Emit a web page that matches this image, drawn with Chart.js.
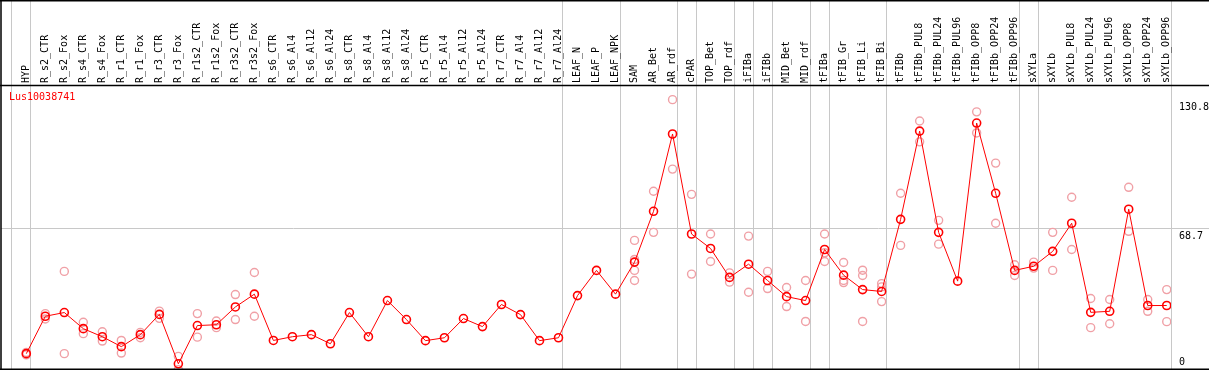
<!DOCTYPE html>
<html>
<head>
<meta charset="utf-8">
<script src="https://cdn.jsdelivr.net/npm/chart.js@4.4.1/dist/chart.umd.min.js"></script>
<style>
  html, body { margin: 0; padding: 0; background: #fff; }
  #wrap { width: 1209px; height: 370px; }
</style>
</head>
<body>
<div id="wrap"><canvas id="chart" width="1209" height="370"></canvas></div>
<script>
// samples, left to right
const categories = [
  "HYP",
  "R_s2_CTR", "R_s2_Fox", "R_s4_CTR", "R_s4_Fox", "R_r1_CTR", "R_r1_Fox", "R_r3_CTR", "R_r3_Fox",
  "R_r1s2_CTR", "R_r1s2_Fox", "R_r3s2_CTR", "R_r3s2_Fox",
  "R_s6_CTR", "R_s6_Al4", "R_s6_Al12", "R_s6_Al24", "R_s8_CTR", "R_s8_Al4", "R_s8_Al12", "R_s8_Al24",
  "R_r5_CTR", "R_r5_Al4", "R_r5_Al12", "R_r5_Al24", "R_r7_CTR", "R_r7_Al4", "R_r7_Al12", "R_r7_Al24",
  "LEAF_N", "LEAF_P", "LEAF_NPK",
  "SAM", "AR_Bet", "AR_rdf",
  "cPAR",
  "TOP_Bet", "TOP_rdf",
  "iFIBa",
  "iFIBb",
  "MID_Bet", "MID_rdf",
  "tFIBa",
  "tFIB_Gr", "tFIB_Li", "tFIB_Bi",
  "tFIBb", "tFIBb_PUL8", "tFIBb_PUL24", "tFIBb_PUL96", "tFIBb_OPP8", "tFIBb_OPP24", "tFIBb_OPP96",
  "sXYLa",
  "sXYLb", "sXYLb_PUL8", "sXYLb_PUL24", "sXYLb_PUL96", "sXYLb_OPP8", "sXYLb_OPP24", "sXYLb_OPP96"
];

// mean expression per sample
const meanValues = [
  7.9, 26.0, 27.8, 20.0, 16.1, 11.3, 17.1, 26.9, 3.0, 21.5,
  21.9, 30.5, 36.7, 14.3, 16.1, 17.1, 12.7, 27.8, 16.1, 33.6,
  24.4, 14.2, 15.6, 24.9, 21.0, 31.7, 26.8, 14.2, 15.6, 36.0,
  48.2, 36.7, 52.2, 76.8, 114.2, 65.8, 58.8, 44.8, 51.2, 43.3,
  35.5, 33.6, 58.3, 45.9, 38.9, 38.0, 72.9, 115.6, 66.6, 43.0,
  119.5, 85.5, 48.2, 50.2, 57.4, 71.0, 27.9, 28.4, 77.8, 31.2, 31.2
];

// replicates (null = no replicate)
const repA = [
  8.5, 27.3, 47.7, 23.1, 18.5, 14.3, 18.2, 28.5, 6.6, 27.3,
  23.7, 36.5, 47.2, null, null, null, null, null, null, null,
  null, null, null, null, null, null, null, null, null, null,
  null, null, 62.7, 86.5, 130.8, 85.0, 65.8, 47.0, 64.8, 47.7,
  39.9, 43.3, 65.8, 52.0, 48.3, 41.8, 85.5, 120.5, 72.4, null,
  124.9, 100.1, 50.9, 52.2, 66.6, 83.6, 34.6, 34.1, 88.4, 34.1, 38.9
];
const repB = [
  7.3, 24.7, 7.9, 17.6, 14.0, 8.2, 15.6, 25.0, 0.2, 15.9,
  20.5, 24.4, 26.0, null, null, null, null, null, null, null,
  null, null, null, null, null, null, null, null, null, null,
  null, null, 53.5, 66.6, 97.2, 46.4, 52.5, 42.5, 37.6, 39.4,
  30.7, 23.5, 56.7, 43.3, 45.7, 40.2, 60.3, 110.4, 60.9, null,
  114.7, 71.0, 45.7, 49.3, 48.2, 58.3, 20.5, 22.4, 67.1, 28.4, 23.4
];
const repC = [
  null, null, null, null, null, null, null, null, null, null,
  null, null, null, null, null, null, null, null, null, null,
  null, null, null, null, null, null, null, null, null, null,
  null, null, 48.2, null, null, null, null, null, null, null,
  null, null, 52.5, 42.3, 23.5, 33.1, null, null, null, null,
  null, null, null, null, null, null, null, null, null, null, null
];
const repD = [
  null, null, null, null, null, null, null, null, null, null,
  null, null, null, null, null, null, null, null, null, null,
  null, null, null, null, null, null, null, null, null, null,
  null, null, 43.3, null, null, null, null, null, null, null,
  null, null, null, null, null, null, null, null, null, null,
  null, null, null, null, null, null, null, null, null, null, null
];

const yTicks = [0, 68.7, 130.8];
const refLine = 68.7;
// separator lines fall after these sample indexes
const groupBreaks = [-1, 0, 28, 31, 34, 35, 37, 38, 39, 41, 42, 45, 52, 53, 60];
const geneName = "Lus10038741";

const FONT = "'DejaVu Sans Mono', monospace";

function toPoints(arr) {
  const pts = [];
  arr.forEach((v, i) => { if (v != null) pts.push({ x: i, y: v }); });
  return pts;
}

const reps = [repA, repB, repC, repD].flatMap(toPoints);

const framePlugin = {
  id: "frame",
  beforeDraw(chart) {
    const { ctx, scales: { x } } = chart;
    ctx.save();
    ctx.strokeStyle = "#c8c8c8";
    ctx.lineWidth = 1;
    groupBreaks.forEach((b) => {
      const px = Math.round(x.getPixelForValue(b + 0.21)) + 0.5;
      ctx.beginPath();
      ctx.moveTo(px, 0);
      ctx.lineTo(px, chart.height);
      ctx.stroke();
    });
    ctx.restore();
  },
  afterDraw(chart) {
    const { ctx, chartArea: a } = chart;
    ctx.save();
    ctx.strokeStyle = "#000";
    ctx.lineWidth = 1.5;
    ctx.beginPath();
    ctx.moveTo(0, 0.75); ctx.lineTo(chart.width, 0.75);
    ctx.moveTo(1, 0); ctx.lineTo(1, chart.height);
    ctx.moveTo(0, a.top + 0.5); ctx.lineTo(chart.width, a.top + 0.5);
    ctx.moveTo(0, chart.height - 0.75); ctx.lineTo(chart.width, chart.height - 0.75);
    ctx.stroke();
    ctx.fillStyle = "#ff0000";
    ctx.font = "10px " + FONT;
    ctx.textBaseline = "middle";
    ctx.fillText(geneName, 9, a.top + 12);
    ctx.restore();
  }
};

new Chart(document.getElementById("chart"), {
  data: {
    datasets: [
      {
        type: "line",
        data: meanValues.map((v, i) => ({ x: i, y: v })),
        borderColor: "#ff0000",
        borderWidth: 1,
        pointRadius: 4,
        pointBorderWidth: 1.6,
        pointBorderColor: "#ff0000",
        pointBackgroundColor: "rgba(0,0,0,0)",
        tension: 0
      },
      {
        type: "scatter",
        data: reps,
        pointRadius: 4,
        pointBorderWidth: 1.4,
        pointBorderColor: "#f0a0a6",
        pointBackgroundColor: "rgba(0,0,0,0)"
      }
    ]
  },
  options: {
    responsive: false,
    animation: false,
    devicePixelRatio: 1,
    layout: { autoPadding: false, padding: { left: 1, top: 0, right: 0, bottom: 0 } },
    plugins: { legend: { display: false }, tooltip: { enabled: false } },
    events: [],
    scales: {
      x: {
        type: "linear",
        position: "top",
        min: -1.331,
        max: 60.225,
        grid: { display: false, drawTicks: false },
        border: { display: false },
        afterBuildTicks: (s) => { s.ticks = categories.map((_, i) => ({ value: i })); },
        afterFit: (s) => { s.height = 85; s.paddingLeft = 0; s.paddingRight = 0; },
        ticks: {
          autoSkip: false,
          minRotation: 90,
          maxRotation: 90,
          padding: 2,
          labelOffset: 12,
          color: "#000",
          font: { family: FONT, size: 10 },
          callback: (v) => categories[v]
        }
      },
      y: {
        type: "linear",
        position: "right",
        min: 0,
        max: 137.9,
        afterBuildTicks: (s) => { s.ticks = yTicks.map((v) => ({ value: v })); },
        afterFit: (s) => { s.width = 38; s.paddingTop = 0; s.paddingBottom = 0; },
        border: { display: false },
        grid: {
          color: (c) => (c.tick && c.tick.value === refLine ? "#c8c8c8" : "rgba(0,0,0,0)"),
          tickColor: (c) => (c.tick && c.tick.value === refLine ? "#c8c8c8" : "rgba(0,0,0,0)"),
          tickLength: 38
        },
        ticks: {
          padding: -30,
          crossAlign: "near",
          color: "#000",
          font: { family: FONT, size: 10, lineHeight: 1.6 },
          callback: (v) => (v === 0 ? ["0", ""] : ["", String(v)])
        }
      }
    }
  },
  plugins: [framePlugin]
});
</script>
</body>
</html>
